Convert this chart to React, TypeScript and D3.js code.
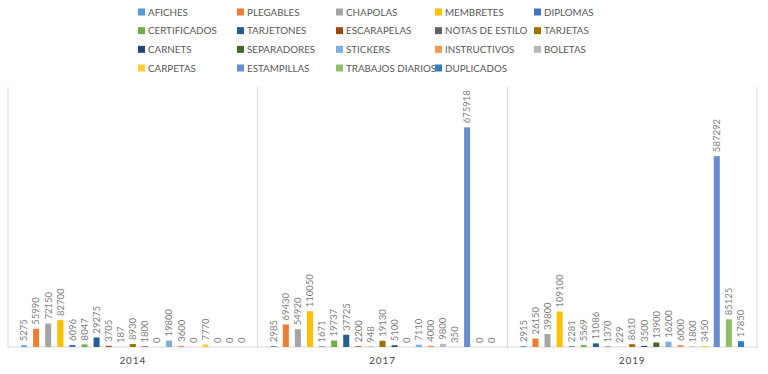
import * as d3 from "d3";

const SERIES = [
  "AFICHES", "PLEGABLES", "CHAPOLAS", "MEMBRETES", "DIPLOMAS",
  "CERTIFICADOS", "TARJETONES", "ESCARAPELAS", "NOTAS DE ESTILO", "TARJETAS",
  "CARNETS", "SEPARADORES", "STICKERS", "INSTRUCTIVOS", "BOLETAS",
  "CARPETAS", "ESTAMPILLAS", "TRABAJOS DIARIOS", "DUPLICADOS",
];

const COLORS = [
  "#5B9BD5", "#ED7D31", "#A5A5A5", "#FFC000", "#4472C4",
  "#70AD47", "#255E91", "#9E480E", "#636363", "#997300",
  "#264478", "#43682B", "#7CAFDD", "#F1975A", "#B7B7B7",
  "#FFCD33", "#698ED0", "#8CC168", "#327DC2",
];

const YEARS = ["2014", "2017", "2019"];

const V2014 = [5275, 55990, 72150, 82700, 6096, 8047, 29275, 3705, 187, 8930, 1800, 0, 19800, 3600, 0, 7770, 0, 0, 0];
const V2017 = [2985, 69430, 54920, 110050, 1671, 19737, 37725, 2200, 948, 19130, 5100, 0, 7110, 4000, 9800, 350, 675918, 0, 0];
const V2019 = [2915, 26150, 39800, 109100, 2281, 5569, 11086, 1370, 229, 8610, 3500, 13900, 16200, 6000, 1800, 3450, 587292, 85125, 17850];

const VALUES = [V2014, V2017, V2019];

const W = 768;
const H = 374;
const plot = { left: 8, right: 757, top: 87, bottom: 347 };
const FONT = "Lato, 'Open Sans', sans-serif";

export default function App() {
  const x0 = d3.scaleBand<string>().domain(YEARS).range([plot.left, plot.right]).padding(0);
  const x1 = d3
    .scaleBand<string>()
    .domain(SERIES)
    .range([10, x0.bandwidth() - 10])
    .padding(0);
  const y = d3.scaleLinear().domain([0, 800000]).range([plot.bottom, plot.top]);
  const barW = x1.bandwidth() * 0.5;

  // legend: 5 columns, 4 rows
  const legX = d3.scaleLinear().domain([0, 4]).range([138, 534]);
  const legY = d3.scaleLinear().domain([0, 3]).range([12, 68]);

  return (
    <svg
      width={W}
      height={H}
      style={{ position: "absolute", left: 0, top: 0, background: "#fff" }}
      fontFamily={FONT}
    >
      {/* legend */}
      {SERIES.map((s, i) => {
        const col = i % 5;
        const row = Math.floor(i / 5);
        return (
          <g key={s} transform={`translate(${legX(col)},${legY(row)})`}>
            <rect x={0} y={-3.5} width={7} height={7} fill={COLORS[i]} />
            <text x={10} dy="0.36em" fontSize={9.8} fill="#595959">
              {s}
            </text>
          </g>
        );
      })}

      {/* frame: left edge, group separators, baseline */}
      {YEARS.map((yr) => (
        <line
          key={"sep" + yr}
          x1={(x0(yr) ?? 0) + x0.bandwidth()}
          x2={(x0(yr) ?? 0) + x0.bandwidth()}
          y1={plot.top}
          y2={plot.bottom + 2}
          stroke="#d9d9d9"
        />
      ))}
      <line x1={plot.left} x2={plot.left} y1={plot.top} y2={plot.bottom + 2} stroke="#d9d9d9" />
      <line x1={plot.left} x2={plot.right} y1={plot.bottom} y2={plot.bottom} stroke="#d9d9d9" />

      {/* bars and labels */}
      {YEARS.map((yr, gi) => (
        <g key={yr} transform={`translate(${x0(yr)},0)`}>
          {SERIES.map((s, i) => {
            const v = VALUES[gi][i];
            const cx = (x1(s) ?? 0) + x1.bandwidth() / 2;
            return (
              <g key={s}>
                <rect
                  x={cx - barW / 2}
                  y={y(v)}
                  width={barW}
                  height={plot.bottom - y(v)}
                  fill={COLORS[i]}
                />
                <text
                  transform={`translate(${cx},${y(v) - 4}) rotate(-90)`}
                  dy="0.35em"
                  fontSize={9.5}
                  fill="#7f7f7f"
                >
                  {v}
                </text>
              </g>
            );
          })}
          <text
            x={x0.bandwidth() / 2}
            y={364}
            textAnchor="middle"
            fontSize={10}
            fontWeight={500}
            letterSpacing={0.9}
            fill="#595959"
          >
            {yr}
          </text>
        </g>
      ))}
    </svg>
  );
}
